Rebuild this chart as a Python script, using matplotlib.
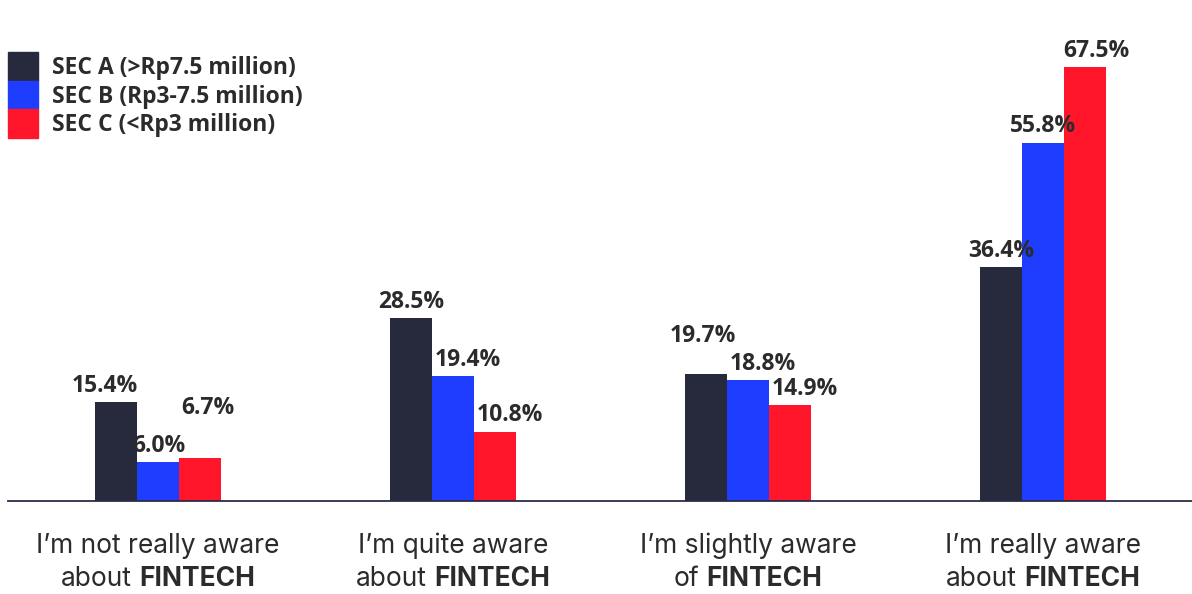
import matplotlib.pyplot as plt
from matplotlib.patches import Patch
from matplotlib.transforms import blended_transform_factory

plt.rcParams['font.family'] = ['Open Sans', 'DejaVu Sans']

# Chart data
line1 = ["I’m not really aware", "I’m quite aware", "I’m slightly aware", "I’m really aware"]
line2_plain = ["about ", "about ", "of ", "about "]
line2_bold = ["FINTECH", "FINTECH", "FINTECH", "FINTECH"]

series = ["SEC A (>Rp7.5 million)", "SEC B (Rp3-7.5 million)", "SEC C (<Rp3 million)"]
sec_a = [15.4, 28.5, 19.7, 36.4]
sec_b = [6.0, 19.4, 18.8, 55.8]
sec_c = [6.7, 10.8, 14.9, 67.5]
colors = ["#262a3c", "#1f3dff", "#ff162b"]
text_color = "#2b2b2b"
cat_font = ["Inter", "DejaVu Sans"]
cat_size = 19

# label nudges (points) so that neighbouring value labels don't collide
nudge = {
    (0, 0): (-8, 0), (1, 0): (1, 0), (2, 0): (6, 24),
    (1, 1): (11, 0), (2, 1): (11, 0),
    (0, 2): (-2, 16), (1, 2): (11, 0), (2, 2): (11, 0),
    (2, 3): (8, 0),
}

fig = plt.figure(figsize=(11.92, 5.94), dpi=100)
ax = fig.add_axes([8 / 1192, 93 / 594, 1 - 8 / 1192, 1 - 93 / 594])

x = list(range(len(line1)))
width = 0.142

for i, (vals, col) in enumerate(zip([sec_a, sec_b, sec_c], colors)):
    pos = [xi + (i - 1) * width for xi in x]
    bars = ax.bar(pos, vals, width=width, color=col, label=series[i])
    for j, (b, v) in enumerate(zip(bars, vals)):
        dx, dy = nudge.get((i, j), (0, 0))
        ax.annotate(
            f"{v:.1f}%",
            (b.get_x() + b.get_width() / 2, b.get_height()),
            xytext=(dx, 3 + dy),
            textcoords="offset points",
            ha="center",
            va="bottom",
            fontsize=16.5,
            fontweight="bold",
            color=text_color,
        )

ax.set_xlim(-0.508, 3.505)
ax.set_ylim(0, 78)

for s in ["top", "right", "left"]:
    ax.spines[s].set_visible(False)
ax.spines["bottom"].set_color("#2a2d45")
ax.spines["bottom"].set_linewidth(1.3)
ax.set_xticks([])
ax.set_yticks([])

# Legend
handles = [Patch(color=c) for c in colors]
fig.legend(
    handles,
    series,
    loc="upper left",
    bbox_to_anchor=(8 / 1192, 1 - 52 / 594),
    frameon=False,
    prop={"weight": "bold", "size": 16.5},
    handlelength=1.31,
    handleheight=1.55,
    labelspacing=0,
    handletextpad=0.61,
    borderpad=0,
    borderaxespad=0,
    labelcolor=text_color,
)

# Category labels (two lines, bold FINTECH)
trans = blended_transform_factory(ax.transData, fig.transFigure)
y1 = 1 - 553 / 594
y2 = 1 - 586 / 594
fig.canvas.draw()
renderer = fig.canvas.get_renderer()


def text_width(s, weight):
    t = fig.text(0, 0, s, fontsize=cat_size, fontweight=weight, family=cat_font)
    w = t.get_window_extent(renderer).width
    t.remove()
    return w


space_w = text_width("a a", "normal") - text_width("aa", "normal")

for xi, l1, p, b in zip(x, line1, line2_plain, line2_bold):
    ax.text(xi, y1, l1, transform=trans, ha="center", va="baseline",
            fontsize=cat_size, color=text_color, family=cat_font)
    wp = text_width(p.strip(), "normal") + space_w
    wb = text_width(b, "bold")
    cx = ax.transData.transform((xi, 0))[0]
    start = cx - (wp + wb) / 2
    fx1 = start / fig.bbox.width
    fx2 = (start + wp) / fig.bbox.width
    fig.text(fx1, y2, p.strip(), ha="left", va="baseline", fontsize=cat_size,
             color=text_color, family=cat_font)
    fig.text(fx2, y2, b, ha="left", va="baseline", fontsize=cat_size,
             fontweight="bold", color=text_color, family=cat_font)

plt.savefig("out.png", dpi=100)
